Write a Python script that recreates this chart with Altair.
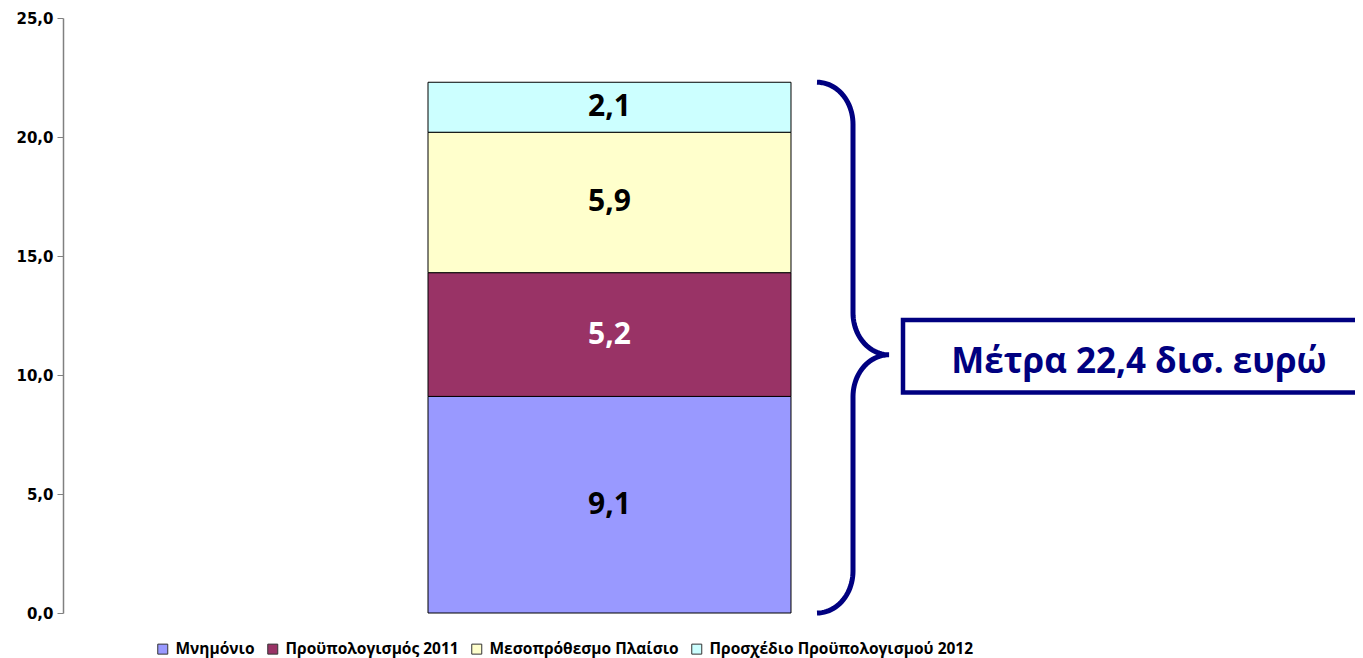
import altair as alt
import pandas as pd
import numpy as np

# ---- data ----
category = ["Μέτρα"]
series = ["Μνημόνιο", "Προϋπολογισμός 2011", "Μεσοπρόθεσμο Πλαίσιο", "Προσχέδιο Προϋπολογισμού 2012"]
values = [9.1, 5.2, 5.9, 2.1]
colors = ["#9999FF", "#993366", "#FFFFCC", "#CCFFFF"]
y_ticks = [0, 5, 10, 15, 20, 25]
annotation_text = "Μέτρα 22,4 δισ. ευρώ"

df = pd.DataFrame({
    "cat": category * len(series),
    "series": series,
    "value": values,
    "idx": list(range(len(series))),
})
df["label"] = [f"{v:.1f}".replace(".", ",") for v in values]
total = float(sum(values))

# ---- layout ----
W, H = 1093, 595
NAVY = "#000080"

band = alt.Scale(domain=category, paddingInner=0.0055, paddingOuter=1)
ann_x = alt.Scale(domain=[0, W], nice=False, zero=False)

# brace geometry (annotation units: x in plot pixels, y in data units)
bx_end, bx_tip = 754, 826
ry = 1.76
tip_y = 10.85


def arc(cx, cy, t0, t1, n=24):
    t = np.linspace(t0, t1, n)
    return list(zip(cx + 36 * np.cos(t), cy + ry * np.sin(t)))


pts = []
pts += arc(bx_end, total - ry, np.pi / 2, 0)
pts += arc(bx_tip, tip_y + ry, np.pi, 3 * np.pi / 2)
pts += arc(bx_tip, tip_y - ry, np.pi / 2, np.pi)
pts += arc(bx_end, ry, 0, -np.pi / 2)
brace_df = pd.DataFrame({"px": [p[0] for p in pts], "py": [p[1] for p in pts], "o": range(len(pts))})

box_df = pd.DataFrame({"x": [840], "x2": [1400], "y": [tip_y - 1.59], "y2": [tip_y + 1.46]})
text_df = pd.DataFrame({"x": [1076], "y": [10.08], "t": [annotation_text]})

bars = alt.Chart(df).mark_bar(stroke="black", strokeWidth=1).encode(
    x=alt.X("cat:N", scale=band, axis=None),
    y=alt.Y(
        "value:Q",
        stack="zero",
        scale=alt.Scale(domain=[0, 25], nice=False),
        axis=alt.Axis(
            values=y_ticks,
            title=None,
            grid=False,
            labelExpr="replace(format(datum.value, '.1f'), '.', ',')",
            labelFont="DejaVu Sans",
            labelFontWeight="bold",
            labelFontSize=15,
            labelColor="black",
            labelPadding=4,
            tickSize=6,
            tickColor="#808080",
            domainColor="#808080",
            domainWidth=1.5,
        ),
    ),
    color=alt.Color(
        "series:N",
        scale=alt.Scale(domain=series, range=colors),
        sort=series,
        legend=alt.Legend(
            title=None,
            orient="none",
            legendX=92,
            legendY=623,
            direction="horizontal",
            labelFont="Open Sans",
            labelFontWeight="bold",
            labelFontSize=15.5,
            labelColor="black",
            labelLimit=500,
            symbolType="square",
            symbolSize=100,
            symbolStrokeColor="#333333",
            symbolStrokeWidth=1,
            columnPadding=10,
            labelOffset=5,
            padding=0,
        ),
    ),
    order=alt.Order("idx:Q"),
)

labels = alt.Chart(df).transform_stack(
    stack="value", groupby=["cat"], sort=[alt.SortField("idx")], as_=["v0", "v1"]
).transform_calculate(mid="(datum.v0 + datum.v1) / 2").mark_text(
    font="Open Sans", fontWeight="bold", fontSize=30, baseline="middle"
).encode(
    x=alt.X("cat:N", scale=band, axis=None),
    y=alt.Y("mid:Q"),
    text="label:N",
    color=alt.condition(alt.datum.series == series[1], alt.value("white"), alt.value("black")),
)

brace = alt.Chart(brace_df).mark_line(color=NAVY, strokeWidth=5, clip=False).encode(
    x=alt.X("px:Q", scale=ann_x, axis=None),
    y=alt.Y("py:Q"),
    order="o:Q",
)

box = alt.Chart(box_df).mark_rect(fillOpacity=0, stroke=NAVY, strokeWidth=4.5, clip=False).encode(
    x=alt.X("x:Q", scale=ann_x, axis=None),
    x2="x2:Q",
    y="y:Q",
    y2="y2:Q",
)

ann_text = alt.Chart(text_df).mark_text(
    font="Open Sans", fontWeight="bold", fontSize=35, color=NAVY, baseline="alphabetic", align="center", clip=False
).encode(
    x=alt.X("x:Q", scale=ann_x, axis=None),
    y="y:Q",
    text="t:N",
)

chart = alt.layer(bars, labels, brace, box, ann_text).resolve_scale(x="independent").properties(
    width=W,
    height=H,
    autosize="none",
    padding={"left": 55, "top": 10, "right": 199, "bottom": 45},
).configure(background="white").configure_view(stroke=None)

chart.save("out.html", embed_options={"renderer": "svg", "actions": False})
